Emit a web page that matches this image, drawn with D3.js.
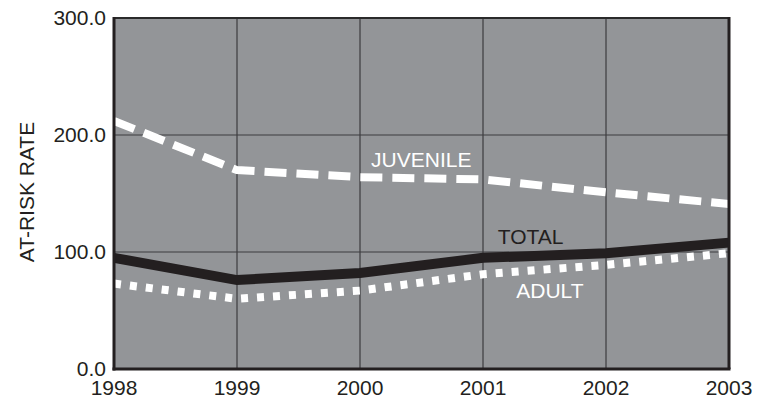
<!DOCTYPE html>
<html>
<head>
<meta charset="utf-8">
<script src="https://cdn.jsdelivr.net/npm/d3@7"></script>
<style>
  body { margin: 0; background: #fff; }
  text { font-family: "Liberation Sans", Arial, sans-serif; }
</style>
</head>
<body>
<script>
// données
const annees = [1998, 1999, 2000, 2001, 2002, 2003];
const juvenile = [212, 170, 164, 162, 151, 141];
const total = [95, 76, 82, 95, 99, 108];
const adulte = [73, 60, 67, 81, 89, 99];
const ticksY = [0, 100, 200, 300];

const W = 765, H = 400;
const m = {left: 114, right: 36, top: 18, bottom: 31};

const svg = d3.select("body").append("svg")
  .attr("width", W)
  .attr("height", H);

const x = d3.scaleLinear()
  .domain([1998, 2003])
  .range([m.left, W - m.right]);

const y = d3.scaleLinear()
  .domain([0, 300])
  .range([H - m.bottom, m.top]);

// fond gris
svg.append("rect")
  .attr("x", x(1998))
  .attr("y", y(300))
  .attr("width", x(2003) - x(1998))
  .attr("height", y(0) - y(300))
  .style("fill", "#939598");

// grille
svg.append("g")
  .selectAll("line")
  .data(annees.slice(1, -1))
  .join("line")
    .attr("x1", d => x(d)).attr("x2", d => x(d))
    .attr("y1", y(300)).attr("y2", y(0))
    .style("stroke", "#3c3c3e").style("stroke-width", 1.2);

svg.append("g")
  .selectAll("line")
  .data(ticksY.slice(1, -1))
  .join("line")
    .attr("x1", x(1998)).attr("x2", x(2003))
    .attr("y1", d => y(d)).attr("y2", d => y(d))
    .style("stroke", "#3c3c3e").style("stroke-width", 1.2);

// courbes
const ligne = serie => d3.line()
  .x((d, i) => x(annees[i]))
  .y(d => y(d))(serie);

svg.append("path")
  .attr("d", ligne(total))
  .style("fill", "none")
  .style("stroke", "#231f20")
  .style("stroke-width", 10);

svg.append("path")
  .attr("d", ligne(juvenile))
  .style("fill", "none")
  .style("stroke", "#fff")
  .style("stroke-width", 8)
  .style("stroke-dasharray", "22,10");

svg.append("path")
  .attr("d", ligne(adulte))
  .style("fill", "none")
  .style("stroke", "#fff")
  .style("stroke-width", 8)
  .style("stroke-dasharray", "7,9");

// cadre
svg.append("line")
  .attr("x1", x(1998)).attr("x2", x(2003))
  .attr("y1", y(300)).attr("y2", y(300))
  .style("stroke", "#2a2a2a").style("stroke-width", 2);
svg.append("line")
  .attr("x1", x(2003)).attr("x2", x(2003))
  .attr("y1", y(300) - 1).attr("y2", y(0))
  .style("stroke", "#231f20").style("stroke-width", 3);
svg.append("line")
  .attr("x1", x(1998)).attr("x2", x(1998))
  .attr("y1", y(300) - 1).attr("y2", y(0) + 1.5)
  .style("stroke", "#231f20").style("stroke-width", 3);
svg.append("line")
  .attr("x1", x(1998) - 1.5).attr("x2", x(2003) + 1.5)
  .attr("y1", y(0)).attr("y2", y(0))
  .style("stroke", "#231f20").style("stroke-width", 3);

// étiquettes des axes
svg.append("g")
  .selectAll("text")
  .data(ticksY)
  .join("text")
    .attr("x", x(1998) - 8)
    .attr("y", d => y(d) + 7)
    .attr("text-anchor", "end")
    .style("font-size", "21px")
    .style("fill", "#231f20")
    .text(d => d.toFixed(1));

svg.append("g")
  .selectAll("text")
  .data(annees)
  .join("text")
    .attr("x", d => x(d))
    .attr("y", 395)
    .attr("text-anchor", "middle")
    .style("font-size", "21px")
    .style("fill", "#231f20")
    .text(d => d);

svg.append("text")
  .attr("transform", "translate(34,192) rotate(-90)")
  .attr("text-anchor", "middle")
  .style("font-size", "21px")
  .style("fill", "#231f20")
  .text("AT-RISK RATE");

// noms des séries
const noms = [
  {t: "JUVENILE", a: 2000.09, v: 173, c: "#fff"},
  {t: "TOTAL", a: 2001.12, v: 107, c: "#231f20"},
  {t: "ADULT", a: 2001.27, v: 61, c: "#fff"}
];
svg.append("g")
  .selectAll("text")
  .data(noms)
  .join("text")
    .attr("x", d => x(d.a))
    .attr("y", d => y(d.v))
    .style("font-size", "21px")
    .style("fill", d => d.c)
    .text(d => d.t);
</script>
</body>
</html>
